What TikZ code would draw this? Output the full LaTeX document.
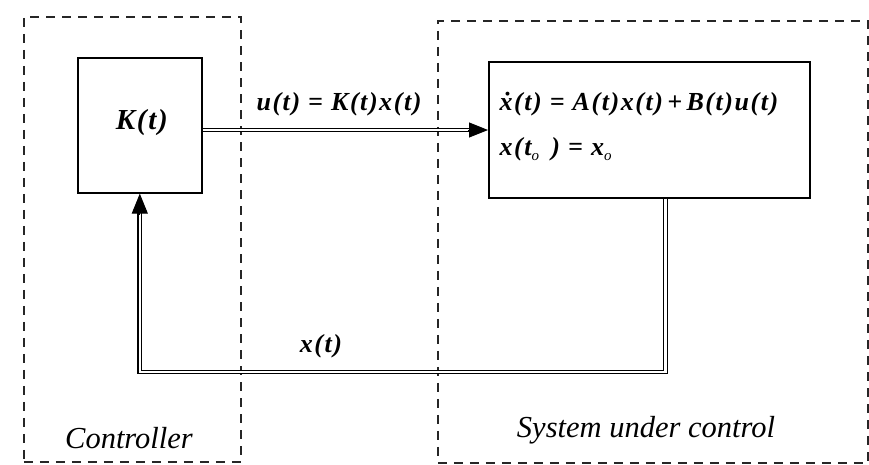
\documentclass[tikz,border=0pt]{standalone}
\usepackage{fontspec}
\setmainfont{Liberation Serif}
\newfontfamily\eqfont[LetterSpace=6]{Liberation Serif}
\usetikzlibrary{arrows.meta,calc}
\begin{document}
\begin{tikzpicture}[x=1pt,y=-1pt,
  group/.style={draw=black!85,line width=1.6pt,dash pattern=on 9pt off 7pt},
  blk/.style={draw=black,line width=1.6pt,inner sep=0pt},
  dbl/.style={draw=black,line width=1.1pt,double=white,double distance=2.6pt},
  tipR/.style={draw=black,line width=1pt,-{Triangle[length=19pt,width=15pt]}},
  eq/.style={font=\fontsize{26}{30}\eqfont\bfseries\itshape},
  captxt/.style={font=\fontsize{30.5}{34}\selectfont\itshape}]
\useasboundingbox (0,0) rectangle (869,464);
\fill[white] (0,0) rectangle (869,464);
% group frames
\node[group,minimum width=217pt,minimum height=445pt,anchor=north west] (ctl) at (23,16) {};
\node[group,minimum width=430pt,minimum height=442pt,anchor=north west] (sys) at (437,20) {};
% blocks
\node[blk,minimum width=124pt,minimum height=135pt,anchor=north west] (K) at (77,57) {};
\node[eq,font=\fontsize{29}{32}\eqfont\bfseries\itshape] (Klab) at ($(K.center)+(2,-3)$) {K(t)};
\node[blk,minimum width=321pt,minimum height=136pt,anchor=north west] (S) at (488,61) {};
\node[eq,anchor=west] (eq1) at (496,104) {\.x(t) = A(t)x(t)\,+\,B(t)u(t)};
\node[eq,anchor=west] (eq2) at (496,149) {x(t\raisebox{-0.45ex}{\fontsize{15}{15}\selectfont\mdseries o}\ \,) = x\raisebox{-0.45ex}{\fontsize{15}{15}\selectfont\mdseries o}};
% forward connector
\coordinate (ku) at (K.east |- 0,130);
\coordinate (su) at (S.west |- 0,130);
\draw[dbl,shorten >=17pt] (ku) -- (su);
\draw[tipR] ($(su)+(-20,0)$) -- (su);
\node[eq] (ulab) at (339,104) {u(t) = K(t)x(t)};
% feedback connector
\coordinate (so) at ($(S.south west)!0.551!(S.south east)$);
\coordinate (fb) at (0,372);
\draw[dbl,shorten >=18pt] (so) |- (fb -| K.south) -- (K.south);
\draw[tipR,-{Triangle[length=20pt,width=16pt]}] ($(K.south)+(0,21)$) -- (K.south);
\node[eq] (xlab) at (321,346) {x(t)};
% captions
\node[captxt] (ctlcap) at (129,438) {Controller};
\node[captxt] (syscap) at (646,430) {System under control};
\end{tikzpicture}
\end{document}
